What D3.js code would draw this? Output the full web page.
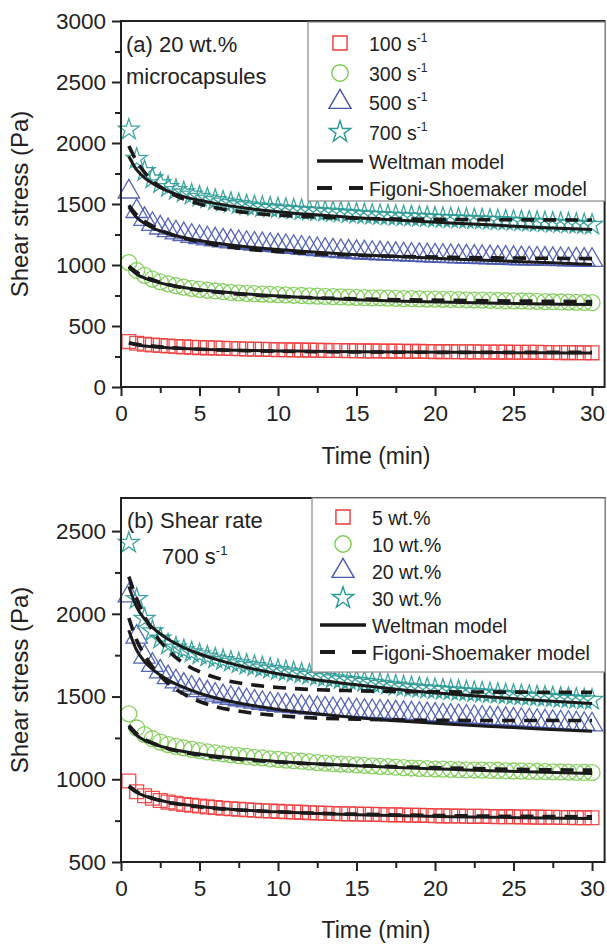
<!DOCTYPE html>
<html>
<head>
<meta charset="utf-8">
<script src="https://cdn.jsdelivr.net/npm/d3@7"></script>
<style>
  body { margin: 0; background: #fff; }
  svg { display: block; font-family: "Liberation Sans", Arial, sans-serif; }
</style>
</head>
<body>
<svg id="chart" width="607" height="946"></svg>
<script>
// time grid of the measured points (min)
const times = [0.5,1,1.5,2,2.5,3,3.5,4,4.5,5,5.5,6,6.5,7,7.5,8,8.5,9,9.5,10,
  10.5,11,11.5,12,12.5,13,13.5,14,14.5,15,15.5,16,16.5,17,17.5,18,18.5,19,19.5,20,
  20.5,21,21.5,22,22.5,23,23.5,24,24.5,25,25.5,26,26.5,27,27.5,28,28.5,29,29.5,30];

// time grid of the fitted model curves (min)
const fitTimes = [0.5,1,1.5,2,3,4,5,6,8,10,12,15,18,21,24,27,30];

// panel (a): 20 wt.% microcapsules, shear stress (Pa)
const rate100 = [372,358,350,344,340,336,332,329,326,323, 321,319,317,315,313,312,310,309,307,306,
  305,304,303,302,301,300,299,299,298,297, 296,296,295,294,294,293,292,292,291,290,
  290,289,289,288,288,287,287,286,286,285, 285,284,284,283,283,282,282,281,281,280];
const rate300 = [1020,955,915,885,862,845,830,818,808,800, 793,787,781,776,772,768,765,762,760,757,
  755,752,750,747,745,743,741,739,737,735, 733,731,730,728,727,725,724,722,721,720,
  719,718,716,715,713,712,710,709,707,706, 705,703,702,700,699,697,696,694,693,691];
const rate500 = [1600,1440,1375,1335,1305,1283,1265,1250,1237,1226, 1216,1207,1199,1192,1185,1179,1173,1168,1163,1158,
  1152,1146,1140,1134,1128,1122,1117,1112,1108,1104, 1100,1097,1094,1091,1088,1085,1082,1080,1077,1075,
  1073,1071,1069,1067,1065,1063,1061,1059,1057,1055, 1053,1052,1050,1049,1047,1046,1044,1043,1041,1040];
const rate700 = [2110,1870,1770,1710,1670,1640,1615,1595,1577,1560, 1545,1532,1520,1509,1499,1490,1482,1475,1470,1465,
  1460,1455,1450,1446,1442,1438,1434,1430,1425,1420, 1416,1412,1409,1406,1403,1400,1398,1395,1392,1388,
  1385,1383,1380,1378,1375,1373,1370,1368,1365,1362, 1359,1356,1353,1350,1347,1344,1341,1337,1334,1330];

const weltmanA = [
  [360,345,336,330,321,315,310,306,300,296,293,289,286,284,282,280,278],
  [980,925,893,870,838,815,798,784,762,745,732,716,703,694,687,681,676],
  [1475,1390,1340,1305,1258,1225,1200,1180,1150,1127,1108,1085,1067,1050,1035,1020,1005],
  [1890,1780,1715,1670,1605,1560,1530,1505,1465,1437,1415,1388,1365,1345,1325,1305,1290]
];
const figoniA = [
  [362,350,341,335,324,316,310,305,298,293,290,287,285,284,284,284,284],
  [990,940,905,880,840,812,793,778,757,743,733,722,715,710,706,703,700],
  [1490,1410,1357,1320,1260,1220,1190,1165,1130,1110,1095,1080,1070,1063,1058,1055,1052],
  [1975,1850,1760,1690,1600,1540,1500,1470,1430,1408,1395,1383,1377,1373,1371,1370,1369]
];

// panel (b): shear rate 700 s-1
const wt5 = [990,925,900,885,872,862,855,848,843,838, 833,829,825,822,819,816,813,810,808,806,
  804,802,800,798,796,795,793,792,791,790, 789,788,787,786,785,784,783,782,781,780,
  779,778,778,777,776,776,775,774,774,773, 772,772,771,770,770,769,769,768,768,767];
const wt10 = [1395,1310,1270,1245,1225,1210,1199,1190,1181,1173, 1166,1160,1154,1148,1143,1138,1133,1129,1124,1120,
  1116,1113,1109,1105,1101,1098,1095,1092,1090,1087, 1084,1081,1078,1076,1073,1070,1068,1066,1064,1062,
  1061,1060,1058,1057,1056,1055,1054,1053,1051,1050, 1049,1048,1047,1046,1045,1044,1043,1042,1041,1040];
const wt20 = [2110,1860,1740,1690,1650,1615,1590,1570,1552,1537, 1523,1510,1500,1490,1482,1475,1468,1460,1454,1448,
  1444,1440,1436,1432,1428,1425,1422,1419,1417,1415, 1412,1410,1407,1405,1402,1399,1396,1394,1391,1388,
  1385,1382,1380,1377,1374,1371,1368,1366,1363,1360, 1357,1354,1351,1348,1345,1342,1339,1336,1333,1330];
const wt30 = [2430,2090,1970,1895,1850,1815,1796,1780,1767,1755, 1742,1730,1720,1710,1701,1692,1684,1676,1668,1660,
  1653,1646,1639,1632,1625,1618,1611,1605,1600,1595, 1589,1583,1577,1571,1566,1560,1556,1552,1548,1545,
  1541,1538,1534,1531,1527,1524,1520,1517,1513,1510, 1507,1504,1501,1498,1495,1492,1489,1486,1483,1480];

const weltmanB = [
  [955,920,900,885,862,847,836,827,813,803,795,786,779,774,770,766,763],
  [1315,1265,1235,1215,1188,1168,1153,1141,1122,1108,1096,1082,1070,1060,1050,1042,1035],
  [1900,1780,1712,1665,1600,1555,1520,1493,1452,1422,1400,1372,1350,1332,1317,1303,1290],
  [2165,2040,1968,1918,1846,1796,1757,1726,1676,1638,1608,1571,1540,1515,1494,1475,1458]
];
const figoniB = [
  [960,925,902,885,860,845,833,824,812,803,796,789,784,780,777,775,773],
  [1325,1275,1242,1220,1185,1163,1147,1135,1117,1104,1094,1083,1075,1068,1062,1058,1055],
  [1975,1840,1750,1680,1580,1515,1470,1440,1405,1385,1372,1363,1358,1356,1355,1355,1355],
  [2225,2090,1985,1900,1780,1700,1650,1615,1575,1555,1543,1535,1530,1528,1527,1526,1525]
];

const xTicks = [0,5,10,15,20,25,30];
const labelsA = ["100 s", "300 s", "500 s", "700 s"];
const labelsB = ["5 wt.%", "10 wt.%", "20 wt.%", "30 wt.%"];

const colors = ["#ee3b3b", "#7ccb52", "#4656ad", "#2a9a95"];
const shapes = [d3.symbolSquare, d3.symbolCircle, d3.symbolTriangle, d3.symbolStar];
const sizes = [190, 200, 200, 135];

const svg = d3.select("#chart");

function panel(cfg) {
  const x = d3.scaleLinear().domain([0, 30.8]).range([121, 604.6]);
  const y = d3.scaleLinear().domain(cfg.yDomain).range(cfg.yRange);
  const g = svg.append("g");

  // markers
  cfg.series.forEach((vals, i) => {
    g.append("g").selectAll("path")
      .data(vals)
      .join("path")
      .attr("transform", (d, j) => `translate(${x(times[j])},${y(d)})`)
      .attr("d", d3.symbol(shapes[i], sizes[i]))
      .attr("fill", "none")
      .attr("stroke", colors[i])
      .attr("stroke-opacity", 0.9)
      .attr("stroke-width", 1.3);
  });

  const line = d3.line()
    .x((d, j) => x(fitTimes[j]))
    .y(d => y(d))
    .curve(d3.curveMonotoneX);

  cfg.figoni.forEach(vals => {
    g.append("path").attr("d", line(vals))
      .attr("fill", "none").attr("stroke", "#1a1a1a")
      .attr("stroke-width", 3.6).attr("stroke-dasharray", "13,9");
  });
  cfg.weltman.forEach(vals => {
    g.append("path").attr("d", line(vals))
      .attr("fill", "none").attr("stroke", "#1a1a1a")
      .attr("stroke-width", 3);
  });

  // frame
  const [y0, y1] = cfg.yRange;
  g.append("rect")
    .attr("x", 121).attr("y", y1)
    .attr("width", 604.6 - 121).attr("height", y0 - y1)
    .attr("fill", "none").attr("stroke", "#222").attr("stroke-width", 2);

  // axes
  g.append("g")
    .attr("transform", `translate(0,${y0})`)
    .call(d3.axisBottom(x).tickValues(xTicks).tickSize(9).tickPadding(9).tickSizeOuter(0));
  g.append("g")
    .attr("transform", `translate(0,${y0})`)
    .call(d3.axisBottom(x).tickValues(d3.range(2.5, 30, 5)).tickSize(6).tickFormat("").tickSizeOuter(0));
  g.append("g")
    .attr("transform", "translate(121,0)")
    .call(d3.axisLeft(y).tickValues(cfg.yTicks).tickFormat(d3.format("d")).tickSize(9).tickPadding(6).tickSizeOuter(0));
  g.append("g")
    .attr("transform", "translate(121,0)")
    .call(d3.axisLeft(y).tickValues(cfg.yMinor).tickSize(6).tickFormat("").tickSizeOuter(0));

  g.selectAll(".domain").remove();
  g.selectAll(".tick line").attr("stroke", "#222").attr("stroke-width", 2);
  g.selectAll(".tick text")
    .attr("fill", "#222")
    .style("font-size", "22.5px")
    .style("font-family", "'Liberation Sans', Arial, sans-serif");

  // axis titles
  g.append("text")
    .attr("x", 376).attr("y", cfg.xTitleY)
    .attr("text-anchor", "middle")
    .attr("fill", "#222").style("font-size", "23px")
    .text("Time (min)");
  g.append("text")
    .attr("transform", `translate(28,${(y0 + y1) / 2}) rotate(-90)`)
    .attr("text-anchor", "middle")
    .attr("fill", "#222").style("font-size", "24px")
    .text("Shear stress (Pa)");

  // annotation
  cfg.note.forEach(n => {
    const t = g.append("text").attr("x", n.x).attr("y", n.y)
      .attr("fill", "#222").style("font-size", "22px");
    t.append("tspan").text(n.text);
    if (n.sup) {
      t.append("tspan").attr("dy", -9).style("font-size", "13px").text(n.sup);
    }
  });

  // legend
  const lg = cfg.legend;
  g.append("rect")
    .attr("x", lg.x).attr("y", lg.y)
    .attr("width", 605 - lg.x).attr("height", lg.h)
    .attr("fill", "#fff").attr("stroke", "#888").attr("stroke-width", 1.2);

  cfg.labels.forEach((lab, i) => {
    const cy = lg.rows[i];
    g.append("path")
      .attr("transform", `translate(${lg.sx},${cy})`)
      .attr("d", d3.symbol(shapes[i], sizes[i] * 1.05))
      .attr("fill", "none").attr("stroke", colors[i]).attr("stroke-width", 1.4);
    const t = g.append("text").attr("x", lg.tx).attr("y", cy + 7.5)
      .attr("fill", "#222").style("font-size", "19.5px");
    t.append("tspan").text(lab);
    if (cfg.supLabels) {
      t.append("tspan").attr("dy", -9).style("font-size", "12px").text("-1");
    }
  });
  const modelRows = [
    { name: "Weltman model", dash: null, w: 3.4 },
    { name: "Figoni-Shoemaker model", dash: "15,17", w: 4 }
  ];
  modelRows.forEach((m, k) => {
    const cy = lg.rows[4 + k];
    g.append("line")
      .attr("x1", lg.lx0).attr("x2", lg.lx1)
      .attr("y1", cy).attr("y2", cy)
      .attr("stroke", "#1a1a1a").attr("stroke-width", m.w)
      .attr("stroke-dasharray", m.dash);
    g.append("text").attr("x", lg.tx).attr("y", cy + 7.5)
      .attr("fill", "#222").style("font-size", "19.5px")
      .text(m.name);
  });
}

panel({
  yDomain: [0, 3000], yRange: [387, 21],
  yTicks: d3.range(0, 3001, 500), yMinor: d3.range(250, 3000, 500),
  series: [rate100, rate300, rate500, rate700],
  weltman: weltmanA, figoni: figoniA,
  xTitleY: 464,
  note: [{ x: 126, y: 52, text: "(a) 20 wt.%" }, { x: 126, y: 84, text: "microcapsules" }],
  legend: { x: 308, y: 22, h: 179, rows: [43, 73, 102, 132, 161, 188], sx: 340, tx: 369, lx0: 317, lx1: 363 },
  labels: labelsA, supLabels: true
});

panel({
  yDomain: [500, 2700], yRange: [862, 498],
  yTicks: d3.range(500, 2501, 500), yMinor: d3.range(750, 2700, 500),
  series: [wt5, wt10, wt20, wt30],
  weltman: weltmanB, figoni: figoniB,
  xTitleY: 938,
  note: [{ x: 127, y: 528, text: "(b) Shear rate" }, { x: 162, y: 564, text: "700 s", sup: "-1" }],
  legend: { x: 312, y: 498, h: 174, rows: [517, 544, 571, 598, 625, 652], sx: 343, tx: 372, lx0: 320, lx1: 366 },
  labels: labelsB, supLabels: false
});
</script>
</body>
</html>
